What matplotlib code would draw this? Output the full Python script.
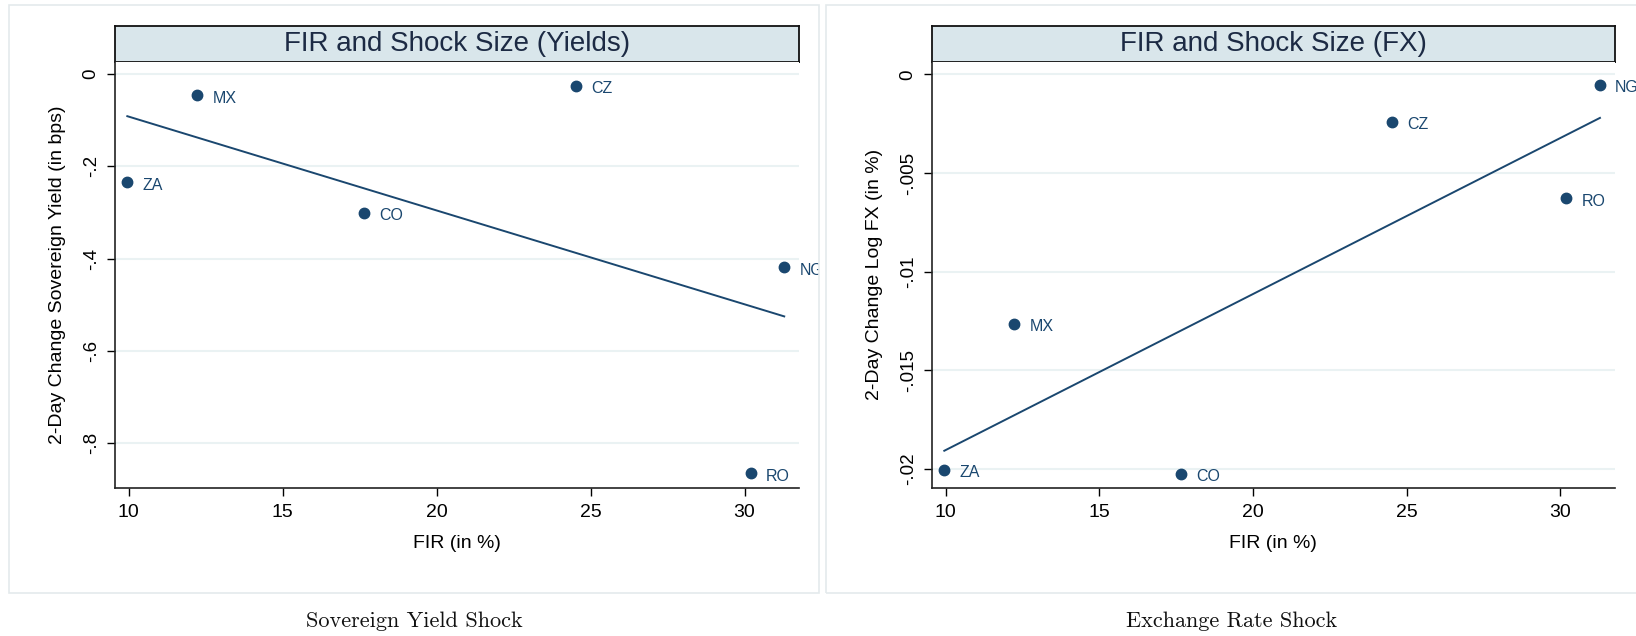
import numpy as np
import matplotlib.pyplot as plt
from matplotlib.patches import Rectangle
from matplotlib.ticker import FixedLocator, FixedFormatter

# FIR (in %) per country, and the two shock measures
countries = ["ZA", "MX", "CO", "CZ", "RO", "NG"]
fir = [9.95, 12.22, 17.65, 24.53, 30.2, 31.29]
yield_shock = [-0.235, -0.046, -0.301, -0.026, -0.866, -0.419]
fx_shock = [-0.02003, -0.01265, -0.02023, -0.00242, -0.00628, -0.00054]

x_ticks = [10, 15, 20, 25, 30]
yield_ticks = [0, -0.2, -0.4, -0.6, -0.8]
fx_ticks = [0, -0.005, -0.01, -0.015, -0.02]

NAVY = "#1a476f"
BOX = "#d9e6eb"
GRID = "#eaf2f3"
FONT = "Liberation Sans"

W, H = 1636, 636
fig = plt.figure(figsize=(W / 100, H / 100), dpi=100)


def fbox(x0, y0, x1, y1):
    return [x0 / W, 1 - y1 / H, (x1 - x0) / W, (y1 - y0) / H]


def stata_label(v):
    if v == 0:
        return "0"
    return f"{v:g}".replace("0.", ".")


def panel(frame, ax_rect, title_rect, y, yticks, ylim, ylabel, title, caption, cap_x):
    border = Rectangle((frame[0] / W, 1 - frame[3] / H), (frame[2] - frame[0]) / W,
                       (frame[3] - frame[1]) / H, transform=fig.transFigure,
                       facecolor="none", edgecolor="#e4eaec", lw=1.2)
    fig.add_artist(border)

    tax = fig.add_axes(fbox(*title_rect))
    tax.set_facecolor(BOX)
    tax.set_xticks([])
    tax.set_yticks([])
    for s in tax.spines.values():
        s.set_linewidth(1.3)
        s.set_color("#111111")
    tax.text(0.5, 0.5, title, ha="center", va="center", fontsize=20,
             color="#1c2a44", family=FONT, transform=tax.transAxes)

    ax = fig.add_axes(fbox(*ax_rect))
    ax.set_xlim(9.55, 31.77)
    ax.set_ylim(*ylim)
    for s in ["top", "right"]:
        ax.spines[s].set_visible(False)
    for s in ["left", "bottom"]:
        ax.spines[s].set_linewidth(1.2)
        ax.spines[s].set_color("#222222")

    ax.yaxis.set_major_locator(FixedLocator(yticks))
    ax.yaxis.set_major_formatter(FixedFormatter([stata_label(v) for v in yticks]))
    ax.xaxis.set_major_locator(FixedLocator(x_ticks))
    ax.grid(axis="y", color=GRID, lw=1.5)
    ax.set_axisbelow(True)
    ax.tick_params(axis="x", length=6, width=1, pad=6, labelsize=14)
    ax.tick_params(axis="y", length=6, width=1, pad=5, labelsize=13.5)
    for lab in ax.get_yticklabels():
        lab.set_rotation(90)
        lab.set_va("center")
        lab.set_family(FONT)
    for lab in ax.get_xticklabels():
        lab.set_family(FONT)

    # linear fit over the FIR range
    slope, icpt = np.polyfit(fir, y, 1)
    xs = np.array([min(fir), max(fir)])
    ax.plot(xs, slope * xs + icpt, color=NAVY, lw=1.4, zorder=2)

    ax.plot(fir, y, "o", color=NAVY, ms=7.5, zorder=3)
    for c, xv, yv in zip(countries, fir, y):
        t = ax.annotate(c, (xv, yv), xytext=(11, -2), textcoords="offset points",
                        ha="left", va="center", fontsize=11.5, color=NAVY,
                        family=FONT, annotation_clip=False)
        t.set_clip_path(border)

    ax.set_xlabel("FIR (in %)", fontsize=14, family=FONT, labelpad=10)
    ax.set_ylabel(ylabel, fontsize=14, family=FONT)
    ax.yaxis.set_label_coords(-0.072, 0.5)

    fig.text(cap_x / W, 1 - 621.7 / H, caption, ha="center", va="center",
             fontsize=16, family="cmr10", color="#111111")
    return ax


panel((9.4, 5.3, 819, 593), (115, 61.7, 799, 487.7), (115, 25.7, 799, 61.7),
      yield_shock, yield_ticks, (-0.897, 0.027),
      "2-Day Change Sovereign Yield (in bps)", "FIR and Shock Size (Yields)",
      "Sovereign Yield Shock", 414)

panel((826, 5.3, 1640, 593), (932, 61.7, 1614.7, 487.7), (932, 25.7, 1614.7, 61.7),
      fx_shock, fx_ticks, (-0.02094, 0.00064),
      "2-Day Change Log FX (in %)", "FIR and Shock Size (FX)",
      "Exchange Rate Shock", 1232)

fig.savefig("out.png", dpi=100)
